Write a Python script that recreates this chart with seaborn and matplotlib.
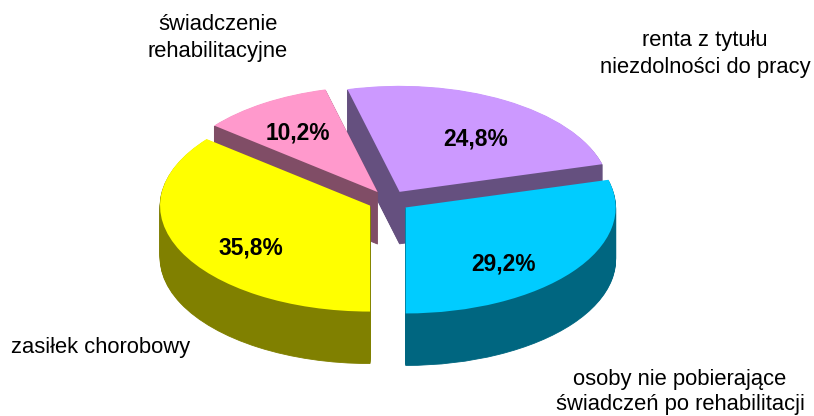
import matplotlib
matplotlib.use('Agg')
import matplotlib.pyplot as plt
import seaborn as sns

# dane
categories = ['osoby nie pobierające\nświadczeń po rehabilitacji',
              'renta z tytułu\nniezdolności do pracy',
              'świadczenie\nrehabilitacyjne',
              'zasiłek chorobowy']
shares = [29.2, 24.8, 10.2, 35.8]
top_colors = ['#00CCFF', '#CC99FF', '#FF99CC', '#FFFF00']
side_colors = ['#006680', '#65507F', '#804D66', '#808000']

# kolejność rysowania: tył -> przód (purpurowy, różowy, niebieski, żółty)
draw_order = [1, 2, 0, 3]
label_pos = [(680, 392), (705, 54), (218, 38), (101, 347)]
label_spacing = [1.27, 1.4, 1.4, 1.27]
pct_pos = [(503, 264), (476, 139), (298, 133), (251, 248)]

W, H = 814, 416
CX, CY = 389, 201     # środek tortu w pikselach
RX, RY = 210, 106     # półosie elipsy
DEPTH = 52            # grubość tortu

sns.set_theme(style='white')
plt.rcParams['font.family'] = ['Liberation Sans', 'DejaVu Sans']

fig = plt.figure(figsize=(W / 100, H / 100), dpi=100)
ax = fig.add_axes([0, 0, 1, 1])

# warstwy boczne + wierzch, każdy wycinek z własnym zorder
for layer in range(DEPTH + 1):
    is_top = layer == DEPTH
    wedges, _ = ax.pie(shares, startangle=-90, counterclock=True,
                       explode=[0.1] * 4,
                       center=(0, (layer - DEPTH) / RY),
                       colors=top_colors if is_top else side_colors,
                       wedgeprops={'linewidth': 0})
    for i, w in enumerate(wedges):
        w.set_zorder(10 + draw_order.index(i) * 100 + layer)
        if not is_top:
            w.set_edgecolor(side_colors[i])
            w.set_linewidth(0.6)

# spłaszczenie: elipsa 210 x 106 px
ax.set_aspect('auto')
ax.set_xlim(-CX / RX, (W - CX) / RX)
ax.set_ylim((CY - H) / RY, CY / RY)
ax.axis('off')

for name, (x, y), sp in zip(categories, label_pos, label_spacing):
    fig.text(x / W, 1 - y / H, name, ha='center', va='center',
             fontsize=15.8, linespacing=sp, color='black')

for val, (x, y) in zip(shares, pct_pos):
    fig.text(x / W, 1 - y / H, f'{val:.1f}%'.replace('.', ','), ha='center',
             va='center', fontsize=16.4, fontweight='bold', color='black',
             zorder=1000)

plt.savefig('out.png', dpi=100)
